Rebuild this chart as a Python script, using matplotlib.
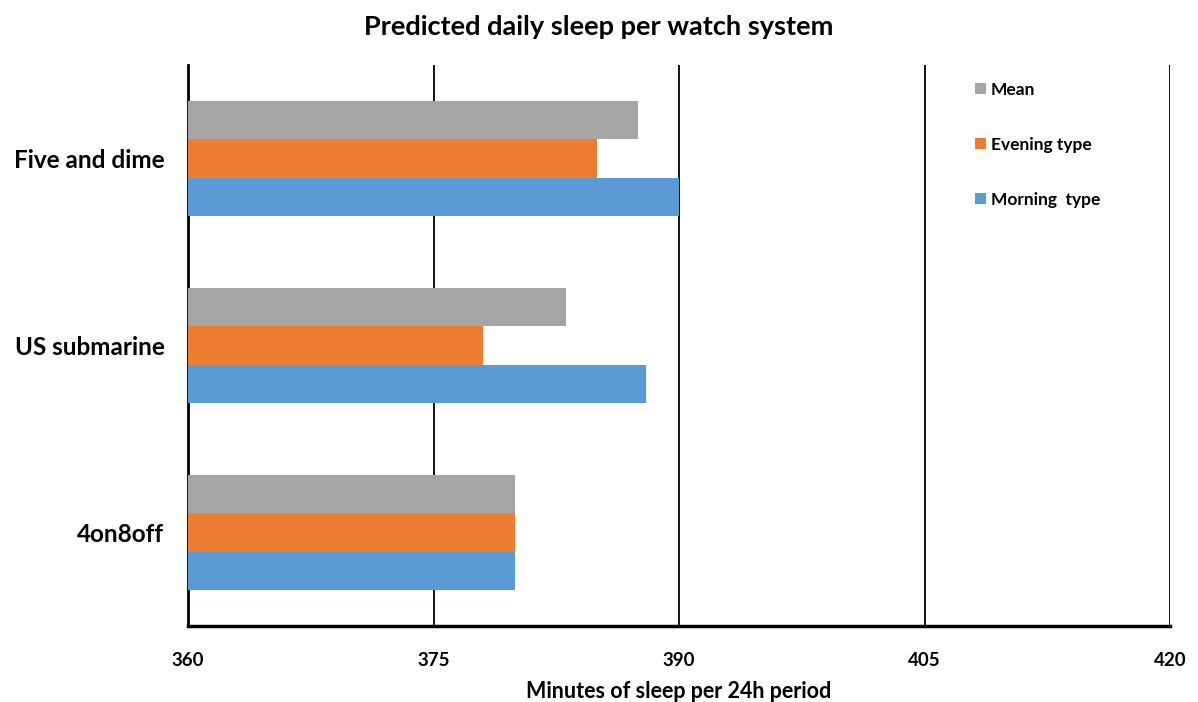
import matplotlib
matplotlib.use("Agg")
import matplotlib.pyplot as plt
import numpy as np

categories = ["4on8off", "US submarine", "Five and dime"]
morning = [380, 388, 390]
evening = [380, 378, 385]
mean = [380, 383.1, 387.5]
xticks = [360, 375, 390, 405, 420]

plt.rcParams['font.family'] = ['Lato', 'DejaVu Sans']

fig = plt.figure(figsize=(11.98, 7.02), dpi=100)
ax = fig.add_axes([188/1198, 76/702, (1170-188)/1198, (626-65)/702])

y = np.arange(len(categories))
h = 0.206
base = 360
ax.barh(y - h, np.array(morning) - base, left=base, height=h, color='#5B9BD5', label='Morning  type', zorder=3)
ax.barh(y, np.array(evening) - base, left=base, height=h, color='#ED7D31', label='Evening type', zorder=3)
ax.barh(y + h, np.array(mean) - base, left=base, height=h, color='#A5A5A5', label='Mean', zorder=3)

ax.set_xlim(360, 420)
ax.set_ylim(-0.5, 2.5)
ax.set_xticks(xticks)
ax.set_xticklabels([str(t) for t in xticks], fontsize=13.5, fontweight='bold')
ax.set_yticks(y)
ax.set_yticklabels(categories, fontsize=17.5, fontweight='bold')
ax.tick_params(axis='x', length=0, pad=19)
ax.tick_params(axis='y', length=0, pad=17)

for t in xticks[1:]:
    ax.axvline(t, color='black', lw=1.3, zorder=1)

ax.spines['top'].set_visible(False)
ax.spines['right'].set_visible(False)
ax.spines['left'].set_linewidth(2)
ax.spines['bottom'].set_linewidth(2.5)

ax.set_xlabel("Minutes of sleep per 24h period", fontsize=15.5, fontweight='bold', labelpad=8)
fig.suptitle("Predicted daily sleep per watch system", fontsize=19.5, fontweight='bold', y=0.978)

handles, labels = ax.get_legend_handles_labels()
leg = ax.legend(handles[::-1], labels[::-1], loc='upper left', bbox_to_anchor=(0.786, 0.998),
                frameon=False, fontsize=12.5, handlelength=0.6, handleheight=0.6,
                handletextpad=0.3, labelspacing=2.25)
for t in leg.get_texts():
    t.set_fontweight('bold')

fig.savefig("out.png", dpi=100)
